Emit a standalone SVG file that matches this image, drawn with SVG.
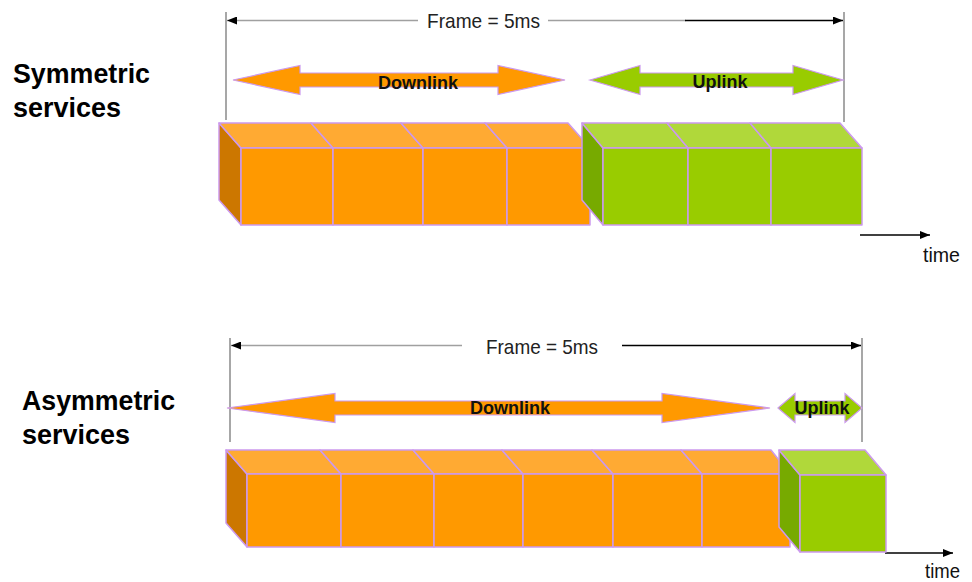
<svg xmlns="http://www.w3.org/2000/svg" width="972" height="582" viewBox="0 0 972 582">
<defs>
<style>
.lbl{font-family:"Liberation Sans",Arial,sans-serif;font-weight:bold;font-size:28px;fill:#000}
.frm{font-family:"Liberation Sans",Arial,sans-serif;font-size:21px;fill:#222}
.arl{font-family:"Liberation Sans",Arial,sans-serif;font-weight:bold;font-size:18px;fill:#111;text-anchor:middle}
.tm{font-family:"Liberation Sans",Arial,sans-serif;font-size:20px;fill:#111}
.vl{stroke:#8a8a8a;stroke-width:1.5;fill:none}
.gl{stroke:#a0a0a0;stroke-width:1.5;fill:none}
.bl{stroke:#000;stroke-width:1.5;fill:none}
.e{stroke:#cc99ee;stroke-width:1.5;stroke-linejoin:round}
.of{fill:#ff9900}.ot{fill:#ffaa33}.os{fill:#cc7700}
.gf{fill:#99cc00}.gt{fill:#b0d83a}.gs{fill:#77aa00}
.ao{fill:#ff9900;stroke:#cc99ee;stroke-width:1.2}
.ag{fill:#99cc00;stroke:#cc99ee;stroke-width:1.2}
</style>
<marker id="ah" viewBox="0 0 10 8" refX="10" refY="4" markerWidth="10" markerHeight="8" markerUnits="userSpaceOnUse" orient="auto-start-reverse">
<path d="M0,0 L10,4 L0,8 z" fill="#000"/>
</marker>
</defs>

<g id="label-symmetric">
<text class="lbl" x="13" y="83" textLength="137" lengthAdjust="spacingAndGlyphs">Symmetric</text>
<text class="lbl" x="13" y="117" textLength="108" lengthAdjust="spacingAndGlyphs">services</text>
</g>
<g id="label-asymmetric">
<text class="lbl" x="22" y="410" textLength="153" lengthAdjust="spacingAndGlyphs">Asymmetric</text>
<text class="lbl" x="22" y="444" textLength="108" lengthAdjust="spacingAndGlyphs">services</text>
</g>

<g id="connectors">
<!-- top frame -->
<line class="vl" x1="226" y1="12" x2="226" y2="120"/>
<line class="vl" x1="844" y1="12" x2="844" y2="122"/>
<line class="gl" x1="418" y1="20.5" x2="227" y2="20.5" marker-end="url(#ah)"/>
<line class="gl" x1="548" y1="20.5" x2="686" y2="20.5"/>
<line class="bl" x1="685" y1="20.5" x2="843" y2="20.5" marker-end="url(#ah)"/>
<!-- bottom frame -->
<line class="vl" x1="230" y1="338" x2="230" y2="442"/>
<line class="vl" x1="862" y1="338" x2="862" y2="442"/>
<line class="gl" x1="462" y1="345.5" x2="231" y2="345.5" marker-end="url(#ah)"/>
<line class="bl" x1="622" y1="345.5" x2="861" y2="345.5" marker-end="url(#ah)"/>
<!-- time arrows -->
<line class="bl" x1="860" y1="235" x2="930" y2="235" marker-end="url(#ah)"/>
<line class="bl" x1="885" y1="553" x2="953" y2="553" marker-end="url(#ah)"/>
</g>

<g id="frame-texts">
<text class="frm" x="427" y="28" textLength="113" lengthAdjust="spacingAndGlyphs">Frame = 5ms</text>
<text class="frm" x="486" y="354" textLength="112" lengthAdjust="spacingAndGlyphs">Frame = 5ms</text>
<text class="tm" x="923" y="262" textLength="37" lengthAdjust="spacingAndGlyphs">time</text>
<text class="tm" x="925" y="578" textLength="35" lengthAdjust="spacingAndGlyphs">time</text>
</g>

<g id="arrow-downlink-sym">
<polygon class="ao" points="233,80 300,65.5 300,73 498,73 498,65.5 565,80 498,94.5 498,87 300,87 300,94.5"/>
<text class="arl" x="418" y="89">Downlink</text>
</g>
<g id="arrow-uplink-sym">
<polygon class="ag" points="590,80 640,65.5 640,73 793,73 793,65.5 843,80 793,94.5 793,87 640,87 640,94.5"/>
<text class="arl" x="720" y="88">Uplink</text>
</g>
<g id="arrow-downlink-asym">
<polygon class="ao" points="227,408 335,393.5 335,401 662,401 662,393.5 770,408 662,422.5 662,415 335,415 335,422.5"/>
<text class="arl" x="510" y="414">Downlink</text>
</g>
<g id="arrow-uplink-asym">
<polygon class="ag" points="778,408 795,393.5 795,401 845,401 845,393.5 862,408 845,422.5 845,415 795,415 795,422.5"/>
<text class="arl" x="822" y="414">Uplink</text>
</g>

<g id="blocks-downlink-sym">
<polygon class="os e" points="219,123 241,148 241,225 219,200"/>
<polygon class="ot e" points="219,123 311,123 333,148 241,148"/>
<polygon class="ot e" points="311,123 401,123 423,148 333,148"/>
<polygon class="ot e" points="401,123 485,123 507,148 423,148"/>
<polygon class="ot e" points="485,123 568,123 590,148 507,148"/>
<rect class="of e" x="241" y="148" width="92" height="77"/>
<rect class="of e" x="333" y="148" width="90" height="77"/>
<rect class="of e" x="423" y="148" width="84" height="77"/>
<rect class="of e" x="507" y="148" width="83" height="77"/>
</g>
<g id="blocks-uplink-sym">
<polygon class="gs e" points="582,123 603,148 603,225 582,200"/>
<polygon class="gt e" points="582,123 667,123 688,148 603,148"/>
<polygon class="gt e" points="667,123 750,123 771,148 688,148"/>
<polygon class="gt e" points="750,123 840,123 862,148 771,148"/>
<rect class="gf e" x="603" y="148" width="85" height="77"/>
<rect class="gf e" x="688" y="148" width="83" height="77"/>
<rect class="gf e" x="771" y="148" width="91" height="77"/>
</g>

<g id="blocks-downlink-asym">
<polygon class="os e" points="226,450 247,474 247,547 226,523"/>
<polygon class="ot e" points="226,450 320,450 341,474 247,474"/>
<polygon class="ot e" points="320,450 413,450 434,474 341,474"/>
<polygon class="ot e" points="413,450 502,450 523,474 434,474"/>
<polygon class="ot e" points="502,450 592,450 613,474 523,474"/>
<polygon class="ot e" points="592,450 681,450 702,474 613,474"/>
<polygon class="ot e" points="681,450 771,450 790,474 702,474"/>
<rect class="of e" x="247" y="474" width="94" height="73"/>
<rect class="of e" x="341" y="474" width="93" height="73"/>
<rect class="of e" x="434" y="474" width="89" height="73"/>
<rect class="of e" x="523" y="474" width="90" height="73"/>
<rect class="of e" x="613" y="474" width="89" height="73"/>
<rect class="of e" x="702" y="474" width="88" height="73"/>
</g>
<g id="blocks-uplink-asym">
<polygon class="gs e" points="779,450 800,475 800,552 779,527"/>
<polygon class="gt e" points="779,450 865,450 886,475 800,475"/>
<rect class="gf e" x="800" y="475" width="86" height="77"/>
</g>
</svg>
